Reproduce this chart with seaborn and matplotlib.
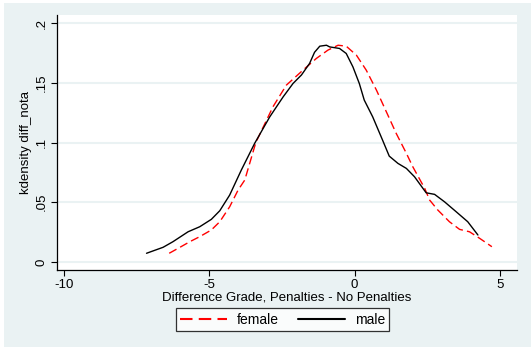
import matplotlib
matplotlib.use("Agg")
import matplotlib.pyplot as plt
import matplotlib.patches as mpatches
import seaborn as sns
import pandas as pd

# ---- data ----
male_x = [-7.16, -6.59, -6.25, -5.73, -5.33, -4.93, -4.64, -4.30, -3.90, -3.44,
          -2.92, -2.46, -2.12, -1.83, -1.55, -1.38, -1.20, -0.97, -0.86, -0.52,
          -0.29, -0.06, 0.16, 0.33, 0.62, 0.96, 1.19, 1.49, 1.78, 2.06,
          2.46, 2.75, 3.09, 3.49, 3.89, 4.24]
male_y = [0.0073, 0.0123, 0.0170, 0.0253, 0.0295, 0.0357, 0.0429, 0.0560, 0.0769, 0.0993,
          0.1215, 0.1382, 0.1494, 0.1565, 0.1662, 0.1755, 0.1806, 0.1814, 0.1800, 0.1787,
          0.1745, 0.1633, 0.1494, 0.1355, 0.1215, 0.1020, 0.0886, 0.0825, 0.0783, 0.0713,
          0.0579, 0.0566, 0.0504, 0.0421, 0.0337, 0.0226]

female_x = [-6.38, -6.01, -5.67, -5.33, -4.93, -4.64, -4.30, -4.01, -3.78, -3.40,
            -2.81, -2.35, -1.78, -1.32, -0.92, -0.57, -0.29, 0.06, 0.40, 0.75,
            1.09, 1.43, 1.78, 2.00, 2.41, 2.58, 2.86, 3.26, 3.61, 3.95,
            4.30, 4.72]
female_y = [0.0073, 0.0123, 0.0170, 0.0212, 0.0268, 0.0337, 0.0462, 0.0602, 0.0686, 0.1000,
            0.1299, 0.1480, 0.1605, 0.1703, 0.1773, 0.1814, 0.1806, 0.1731, 0.1605, 0.1438,
            0.1257, 0.1076, 0.0909, 0.0797, 0.0616, 0.0518, 0.0435, 0.0337, 0.0273, 0.0253,
            0.0198, 0.0128]

x_ticks = [-10, -5, 0, 5]
x_tick_labels = ["-10", "-5", "0", "5"]
y_ticks = [0, 0.05, 0.1, 0.15, 0.2]
y_tick_labels = ["0", ".05", ".1", ".15", ".2"]

x_label = "Difference Grade, Penalties - No Penalties"
y_label = "kdensity diff_nota"
series_names = ["female", "male"]

df_f = pd.DataFrame({"x": female_x, "y": female_y})
df_m = pd.DataFrame({"x": male_x, "y": male_y})

# ---- style ----
sns.set_style("white")
plt.rcParams["font.family"] = ["Liberation Sans", "DejaVu Sans"]
plt.rcParams["text.color"] = "black"
plt.rcParams["axes.labelcolor"] = "black"
plt.rcParams["xtick.color"] = "black"
plt.rcParams["ytick.color"] = "black"
BG = "#EAF2F3"
FS = 9.5

fig = plt.figure(figsize=(5.31, 3.51), dpi=100)
fig.patch.set_facecolor("white")
fig.patches.append(mpatches.Rectangle((4 / 531, 1 - 347 / 351), 1 - 4 / 531, 344 / 351,
                                      transform=fig.transFigure, facecolor=BG,
                                      edgecolor="none", zorder=-5))

ax = fig.add_axes([57 / 531, 1 - 270 / 351, (517 - 57) / 531, (270 - 15) / 351])
ax.set_zorder(1)
ax.set_facecolor("white")

sns.lineplot(data=df_f, x="x", y="y", ax=ax, color="#FF0000", linewidth=1.0,
             label=series_names[0])
ax.lines[-1].set_dashes((6, 3))
sns.lineplot(data=df_m, x="x", y="y", ax=ax, color="black", linewidth=1.0,
             label=series_names[1])

ax.set_xlim(-10.24, 5.585)
ax.set_ylim(-0.0067, 0.2067)

ax.set_xticks(x_ticks)
ax.set_xticklabels(x_tick_labels, fontsize=FS)
ax.set_yticks(y_ticks)
ax.set_yticklabels(y_tick_labels, fontsize=FS, rotation=90, va="center")

ax.tick_params(axis="both", direction="out", length=4.5, width=0.8, color="black",
               labelcolor="black", pad=2.2, bottom=True, left=True)

ax.grid(axis="y", color=BG, linewidth=1.5)
ax.grid(axis="x", visible=False)
ax.set_axisbelow(True)

for s in ["top", "right"]:
    ax.spines[s].set_visible(False)
for s in ["left", "bottom"]:
    ax.spines[s].set_color("black")
    ax.spines[s].set_linewidth(0.9)

ax.set_xlabel(x_label, fontsize=FS, labelpad=0.5, color="black")
ax.set_ylabel(y_label, fontsize=FS, labelpad=2.5, color="black")

handles, labels = ax.get_legend_handles_labels()
ax.get_legend().remove()
leg = fig.legend(handles, labels, loc="center", bbox_to_anchor=(0.532, 0.0897),
                 ncol=2, fontsize=FS + 0.5, frameon=True, fancybox=False,
                 handlelength=3.4, handletextpad=0.7, columnspacing=1.4,
                 borderpad=0.3, labelcolor="black")
leg.get_frame().set_edgecolor("black")
leg.get_frame().set_linewidth(0.9)
leg.get_frame().set_facecolor("white")
for h in leg.get_lines():
    h.set_linewidth(1.5)

fig.savefig("out.png", dpi=100, facecolor=fig.get_facecolor())
